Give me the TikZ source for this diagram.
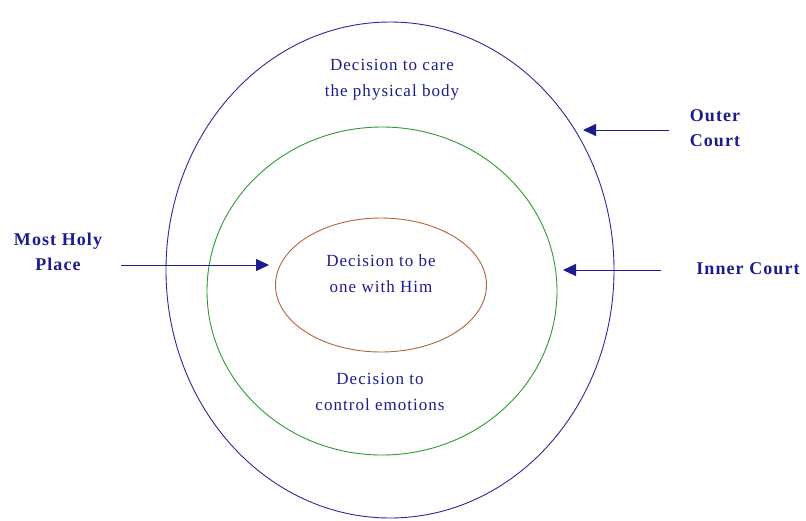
\documentclass[tikz,border=0pt]{standalone}
\usepackage{fontspec}
\setmainfont{Liberation Serif}
\usepackage{xcolor}
\usepackage{tikz}
\usetikzlibrary{shapes.geometric, positioning, arrows.meta}

\definecolor{navytext}{HTML}{1C1C8C}
\definecolor{outerblue}{HTML}{2A2A9A}
\definecolor{courtgreen}{HTML}{2E9A2E}
\definecolor{holybrown}{HTML}{B2643C}

\begin{document}
\begin{tikzpicture}[
    x=1pt, y=-1pt,
    court/.style={ellipse, draw, fill=none, line width=0.9pt, inner sep=0pt},
    decision_text/.style={text=navytext, align=center, font=\fontsize{17}{26}\selectfont\addfontfeatures{LetterSpace=6}},
    label_text/.style={text=navytext, align=center, font=\fontsize{18}{25}\selectfont\bfseries\addfontfeatures{LetterSpace=6}},
    pointer_style/.style={draw=navytext, line width=1pt, -{Triangle[length=13pt, width=12pt]}}
]

\useasboundingbox (0,0) rectangle (806,520);

% Courts
\node[court, draw=outerblue, minimum width=448pt, minimum height=496pt] (outer) at (390,270) {};
\node[court, draw=courtgreen, minimum width=350pt, minimum height=328pt] (inner) at (382,291) {};
\node[court, draw=holybrown, minimum width=211pt, minimum height=134pt] (holy) at (381,285) {};

% Decisions
\node[decision_text] (care) at (392,80) {Decision to care\\the physical body};
\node[decision_text] (onewith) at (381,274) {Decision to be\\one with Him};
\node[decision_text] (emotions) at (380,392) {Decision to\\control emotions};

% Labels
\node[label_text] (holylabel) at (58,252) {Most Holy\\Place};
\node[label_text] (outerlabel) at (715,128) {Outer\\Court};
\node[label_text] (innerlabel) at (748,269) {Inner Court};

% Pointer ends
\coordinate (holy_from) at (121,265);
\coordinate (holy_to) at (269,265);
\coordinate (outer_from) at (669,130);
\coordinate (outer_to) at (583,130);
\coordinate (inner_from) at (661,270);
\coordinate (inner_to) at (563,270);

% Pointers
\draw[pointer_style] (holy_from) -- (holy_to);
\draw[pointer_style] (outer_from) -- (outer_to);
\draw[pointer_style] (inner_from) -- (inner_to);

\end{tikzpicture}
\end{document}
